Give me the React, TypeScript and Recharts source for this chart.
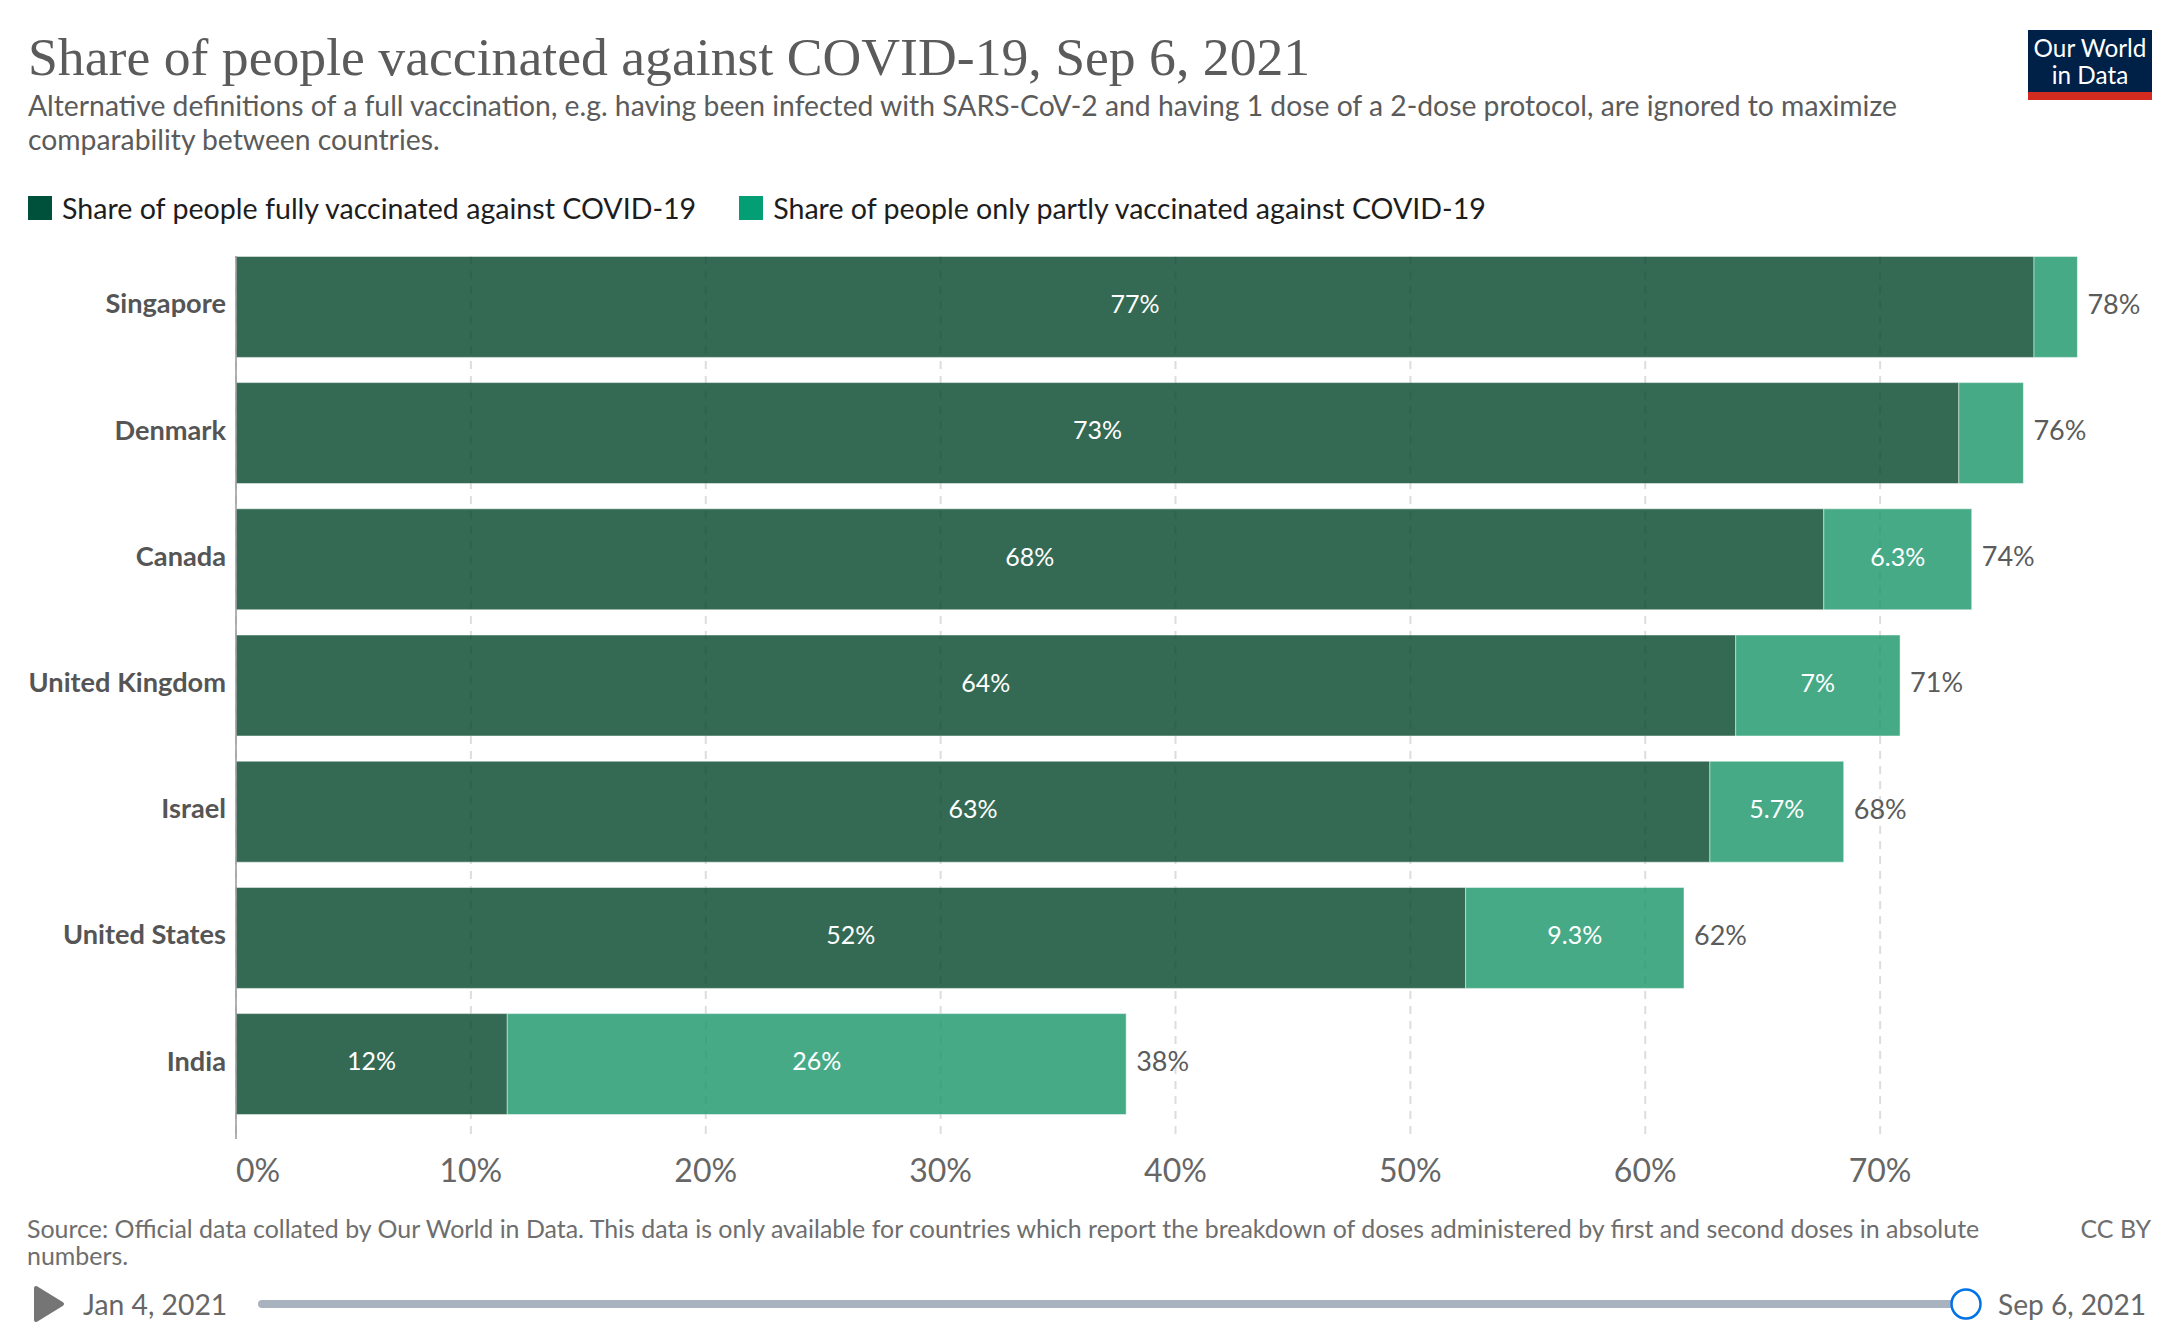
import { BarChart, Bar, XAxis, YAxis, CartesianGrid, Legend, LabelList } from 'recharts';

const countries = ['Singapore', 'Denmark', 'Canada', 'United Kingdom', 'Israel', 'United States', 'India'];
const fullyVaccinated = [76.55, 73.35, 67.6, 63.85, 62.75, 52.35, 11.55];
const partlyVaccinated = [1.85, 2.75, 6.3, 7.0, 5.7, 9.3, 26.35];
const totals = [78, 76, 74, 71, 68, 62, 38];
const xTicks = [0, 10, 20, 30, 40, 50, 60, 70];

const chartData = countries.map((country, i) => ({
  country,
  full: fullyVaccinated[i],
  partly: partlyVaccinated[i],
  total: totals[i],
}));

const FONT = 'Lato, sans-serif';
const DARK = '#00513b';
const LIGHT = '#049e74';
const DARK_BAR = '#02452a';
const LIGHT_BAR = '#18966a';

const seriesNames = [
  'Share of people fully vaccinated against COVID-19',
  'Share of people only partly vaccinated against COVID-19',
];

function pct(v: number) {
  return `${Number(v.toPrecision(2))}%`;
}

// labels inside the bar, hidden when the segment is too narrow
function InsideLabel({ x, y, width, height, value }: any) {
  if (width < 80) return null;
  return (
    <text x={x + width / 2} y={y + height / 2} textAnchor="middle" dominantBaseline="middle"
      fill="#fff" fontFamily={FONT} fontSize={25}>
      {pct(value)}
    </text>
  );
}

function TotalLabel({ x, y, width, height, value }: any) {
  return (
    <text x={x + width + 10} y={y + height / 2} dominantBaseline="middle"
      fill="#5b5b5b" fontFamily={FONT} fontSize={27}>
      {value}%
    </text>
  );
}

// 0% sits to the right of the axis, the others are centred on their gridline
function XTick({ x, y, payload }: any) {
  return (
    <text x={x} y={y + 27} textAnchor={payload.value === 0 ? 'start' : 'middle'} dominantBaseline="middle"
      fill="#666" fontFamily={FONT} fontSize={32}>
      {payload.value}%
    </text>
  );
}

function YTick({ x, y, payload }: any) {
  return (
    <text x={x} y={y} textAnchor="end" dominantBaseline="middle"
      fill="#555" fontFamily={FONT} fontSize={27.2} fontWeight={700}>
      {payload.value}
    </text>
  );
}

function LegendRow() {
  return (
    <div style={{ display: 'flex', fontFamily: FONT, fontSize: 28.6, color: '#1d1d1d', lineHeight: '24px', whiteSpace: 'nowrap' }}>
      <span style={{ width: 24, height: 24, background: DARK, marginRight: 10 }} />
      <span style={{ marginRight: 43 }}>{seriesNames[0]}</span>
      <span style={{ width: 24, height: 24, background: LIGHT, marginRight: 10 }} />
      <span>{seriesNames[1]}</span>
    </div>
  );
}

const abs = (left: number, top: number, extra: object = {}): React.CSSProperties => ({
  position: 'absolute', left, top, fontFamily: FONT, whiteSpace: 'nowrap', ...extra,
});

export default function App() {
  return (
    <div style={{ position: 'absolute', left: 0, top: 0, width: 2182, height: 1336, background: '#fff', overflow: 'hidden' }}>
      <BarChart width={2182} height={1336} layout="vertical" data={chartData} barCategoryGap={0}
        margin={{ top: 256, right: 67, bottom: 137, left: 0 }} style={{ position: 'absolute', left: 0, top: 0 }}>
        <CartesianGrid horizontal={false} verticalValues={xTicks} stroke="#dddddd" strokeWidth={2} strokeDasharray="8 7" />
        <XAxis type="number" domain={[0, 80]} ticks={xTicks} axisLine={false} tickLine={false}
          height={60} tick={<XTick />} />
        <YAxis type="category" dataKey="country" width={236} tickLine={false} padding={{ top: -12.6, bottom: 12.2 }}
          axisLine={{ stroke: '#999', strokeWidth: 1.5 }} tickMargin={4} interval={0} tick={<YTick />} />
        <Legend verticalAlign="middle" align="center" content={<LegendRow />}
          wrapperStyle={{ left: 28, top: 196, width: 'auto' }} />
        <Bar dataKey="full" stackId="a" name={seriesNames[0]} fill={DARK_BAR} opacity={0.8} stroke="#fff" strokeWidth={0.5}
          barSize={101} isAnimationActive={false}>
          <LabelList dataKey="full" content={<InsideLabel />} />
        </Bar>
        <Bar dataKey="partly" stackId="a" name={seriesNames[1]} fill={LIGHT_BAR} opacity={0.8} stroke="#fff" strokeWidth={0.5}
          barSize={101} isAnimationActive={false}>
          <LabelList dataKey="partly" content={<InsideLabel />} />
          <LabelList dataKey="total" content={<TotalLabel />} />
        </Bar>
      </BarChart>

      <div style={abs(28, 25, { fontFamily: '"Liberation Serif", serif', fontSize: 53.7, color: '#5b5b5b', lineHeight: '64px' })}>
        Share of people vaccinated against COVID-19, Sep 6, 2021
      </div>
      <div style={abs(28, 88, { fontSize: 28.3, color: '#5b5b5b', lineHeight: '34px' })}>
        Alternative definitions of a full vaccination, e.g. having been infected with SARS-CoV-2 and having 1 dose of a 2-dose protocol, are ignored to maximize<br />
        comparability between countries.
      </div>

      <div style={abs(2028, 30, { width: 124, height: 70, background: '#002147', borderBottom: '8px solid #d42b21', boxSizing: 'border-box',
        color: '#fff', fontSize: 24.3, lineHeight: '27px', textAlign: 'center', paddingTop: 4 })}>
        Our World<br />in Data
      </div>

      <div style={abs(27, 1215, { fontSize: 24.95, color: '#6e6e6e', lineHeight: '27px' })}>
        Source: Official data collated by Our World in Data. This data is only available for countries which report the breakdown of doses administered by first and second doses in absolute<br />
        numbers.
      </div>
      <div style={abs(2050, 1215, { fontSize: 24.95, color: '#6e6e6e', lineHeight: '27px', width: 101, textAlign: 'right' })}>CC BY</div>

      <svg width={2182} height={1336} style={{ position: 'absolute', left: 0, top: 0, pointerEvents: 'none' }}>
        <path d="M36 1288 L62 1304 L36 1320 Z" fill="#757575" stroke="#757575" strokeWidth={4} strokeLinejoin="round" />
        <rect x={258} y={1300} width={1708} height={8} rx={4} fill="#a9b3c0" />
        <circle cx={1966} cy={1305} r={15} fill="#ccc" opacity={0.6} />
        <circle cx={1966} cy={1304} r={14.5} fill="#fff" stroke="#0073e6" strokeWidth={2.5} />
      </svg>
      <div style={abs(83, 1287, { fontSize: 28.3, color: '#666', lineHeight: '34px' })}>Jan 4, 2021</div>
      <div style={abs(1998, 1287, { fontSize: 28.1, color: '#666', lineHeight: '34px' })}>Sep 6, 2021</div>
    </div>
  );
}
